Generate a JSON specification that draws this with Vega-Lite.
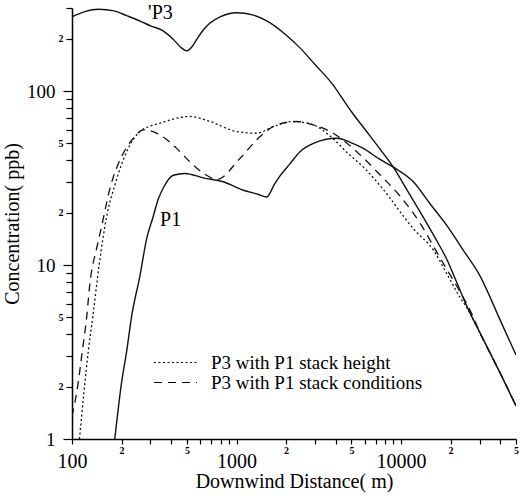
{
  "$schema": "https://vega.github.io/schema/vega-lite/v6.json",
  "width": 444,
  "height": 431,
  "autosize": {"type": "none"},
  "padding": {"left": 72, "top": 8, "right": 4, "bottom": 60},
  "background": "white",
  "config": {
    "view": {"stroke": null},
    "font": "Liberation Serif, Times New Roman, DejaVu Serif, serif",
    "text": {"font": "Liberation Serif, Times New Roman, DejaVu Serif, serif"}
  },
  "datasets": {
    "curves": [
      {"series": "P3", "x": 100, "y": 267}, {"series": "P3", "x": 120, "y": 286}, {"series": "P3", "x": 145, "y": 295},
      {"series": "P3", "x": 180, "y": 289}, {"series": "P3", "x": 215, "y": 271}, {"series": "P3", "x": 260, "y": 252},
      {"series": "P3", "x": 300, "y": 237}, {"series": "P3", "x": 360, "y": 221}, {"series": "P3", "x": 413, "y": 198},
      {"series": "P3", "x": 460, "y": 178}, {"series": "P3", "x": 498, "y": 170}, {"series": "P3", "x": 535, "y": 179},
      {"series": "P3", "x": 573, "y": 198}, {"series": "P3", "x": 630, "y": 225}, {"series": "P3", "x": 690, "y": 246},
      {"series": "P3", "x": 800, "y": 268}, {"series": "P3", "x": 1000, "y": 282}, {"series": "P3", "x": 1250, "y": 274},
      {"series": "P3", "x": 1527, "y": 253}, {"series": "P3", "x": 2000, "y": 210}, {"series": "P3", "x": 2431, "y": 177},
      {"series": "P3", "x": 3000, "y": 142}, {"series": "P3", "x": 3873, "y": 108}, {"series": "P3", "x": 4355, "y": 92},
      {"series": "P3", "x": 5000, "y": 76}, {"series": "P3", "x": 6180, "y": 58.5}, {"series": "P3", "x": 7500, "y": 46},
      {"series": "P3", "x": 8975, "y": 36.5}, {"series": "P3", "x": 11000, "y": 26.5}, {"series": "P3", "x": 13060, "y": 20.2},
      {"series": "P3", "x": 16000, "y": 14.5}, {"series": "P3", "x": 18970, "y": 10.8}, {"series": "P3", "x": 22000, "y": 7.8},
      {"series": "P3", "x": 25070, "y": 5.82}, {"series": "P3", "x": 30200, "y": 4.08}, {"series": "P3", "x": 40000, "y": 2.4},
      {"series": "P3", "x": 50000, "y": 1.55},

      {"series": "P1", "x": 182, "y": 1}, {"series": "P1", "x": 200, "y": 2.1}, {"series": "P1", "x": 215, "y": 3.2},
      {"series": "P1", "x": 230.6, "y": 5.1}, {"series": "P1", "x": 259, "y": 8.7}, {"series": "P1", "x": 284, "y": 14.1},
      {"series": "P1", "x": 310, "y": 18.7}, {"series": "P1", "x": 335, "y": 24}, {"series": "P1", "x": 360, "y": 27.9},
      {"series": "P1", "x": 413, "y": 32.8}, {"series": "P1", "x": 486, "y": 33.6}, {"series": "P1", "x": 628, "y": 31.7},
      {"series": "P1", "x": 832, "y": 30.1}, {"series": "P1", "x": 1100, "y": 26.9}, {"series": "P1", "x": 1350, "y": 25.5},
      {"series": "P1", "x": 1527, "y": 24.6}, {"series": "P1", "x": 1700, "y": 29.1}, {"series": "P1", "x": 1838, "y": 32.5},
      {"series": "P1", "x": 2100, "y": 37.9}, {"series": "P1", "x": 2431, "y": 44.8}, {"series": "P1", "x": 2931, "y": 50},
      {"series": "P1", "x": 4064, "y": 53.5}, {"series": "P1", "x": 5000, "y": 50.4}, {"series": "P1", "x": 5900, "y": 46.8},
      {"series": "P1", "x": 7400, "y": 40.6}, {"series": "P1", "x": 8975, "y": 36.5}, {"series": "P1", "x": 11880, "y": 30.1},
      {"series": "P1", "x": 15000, "y": 22.5}, {"series": "P1", "x": 18970, "y": 16.9}, {"series": "P1", "x": 24000, "y": 12.1},
      {"series": "P1", "x": 30200, "y": 8.67}, {"series": "P1", "x": 40000, "y": 4.84}, {"series": "P1", "x": 50000, "y": 3.04},

      {"series": "P3 with P1 stack height", "x": 111, "y": 1}, {"series": "P3 with P1 stack height", "x": 126, "y": 3.27},
      {"series": "P3 with P1 stack height", "x": 134, "y": 5.1}, {"series": "P3 with P1 stack height", "x": 146, "y": 9.9},
      {"series": "P3 with P1 stack height", "x": 163, "y": 19.3}, {"series": "P3 with P1 stack height", "x": 182, "y": 28.7},
      {"series": "P3 with P1 stack height", "x": 215, "y": 44.8}, {"series": "P3 with P1 stack height", "x": 259, "y": 58.5},
      {"series": "P3 with P1 stack height", "x": 343, "y": 65.3}, {"series": "P3 with P1 stack height", "x": 521, "y": 71.4},
      {"series": "P3 with P1 stack height", "x": 690, "y": 66.8}, {"series": "P3 with P1 stack height", "x": 1002, "y": 58.5},
      {"series": "P3 with P1 stack height", "x": 1328, "y": 57.2}, {"series": "P3 with P1 stack height", "x": 1675, "y": 62.5},
      {"series": "P3 with P1 stack height", "x": 2215, "y": 66.8}, {"series": "P3 with P1 stack height", "x": 2931, "y": 63.9},
      {"series": "P3 with P1 stack height", "x": 3800, "y": 54}, {"series": "P3 with P1 stack height", "x": 4800, "y": 43.5},
      {"series": "P3 with P1 stack height", "x": 6000, "y": 36}, {"series": "P3 with P1 stack height", "x": 7600, "y": 28},
      {"series": "P3 with P1 stack height", "x": 12000, "y": 16}, {"series": "P3 with P1 stack height", "x": 15700, "y": 12.2},
      {"series": "P3 with P1 stack height", "x": 19000, "y": 8.9}, {"series": "P3 with P1 stack height", "x": 22870, "y": 6.5},
      {"series": "P3 with P1 stack height", "x": 25070, "y": 5.7}, {"series": "P3 with P1 stack height", "x": 30200, "y": 4.05},
      {"series": "P3 with P1 stack height", "x": 40000, "y": 2.4}, {"series": "P3 with P1 stack height", "x": 50000, "y": 1.55},

      {"series": "P3 with P1 stack conditions", "x": 100, "y": 1.35}, {"series": "P3 with P1 stack conditions", "x": 109, "y": 2.1},
      {"series": "P3 with P1 stack conditions", "x": 114.5, "y": 3.0}, {"series": "P3 with P1 stack conditions", "x": 123, "y": 5.1},
      {"series": "P3 with P1 stack conditions", "x": 128.6, "y": 7.9}, {"series": "P3 with P1 stack conditions", "x": 141, "y": 12.4},
      {"series": "P3 with P1 stack conditions", "x": 151, "y": 16.5}, {"series": "P3 with P1 stack conditions", "x": 170, "y": 27.5},
      {"series": "P3 with P1 stack conditions", "x": 200, "y": 41.9}, {"series": "P3 with P1 stack conditions", "x": 236, "y": 53.5},
      {"series": "P3 with P1 stack conditions", "x": 271, "y": 59.8}, {"series": "P3 with P1 stack conditions", "x": 343, "y": 55.9},
      {"series": "P3 with P1 stack conditions", "x": 433, "y": 46.8}, {"series": "P3 with P1 stack conditions", "x": 546, "y": 37.5},
      {"series": "P3 with P1 stack conditions", "x": 650, "y": 33}, {"series": "P3 with P1 stack conditions", "x": 760, "y": 31},
      {"series": "P3 with P1 stack conditions", "x": 1050, "y": 41}, {"series": "P3 with P1 stack conditions", "x": 1390, "y": 54.7},
      {"series": "P3 with P1 stack conditions", "x": 1754, "y": 63.9}, {"series": "P3 with P1 stack conditions", "x": 2322, "y": 66.8},
      {"series": "P3 with P1 stack conditions", "x": 2931, "y": 63.9}, {"series": "P3 with P1 stack conditions", "x": 3873, "y": 57.2},
      {"series": "P3 with P1 stack conditions", "x": 5380, "y": 44.8}, {"series": "P3 with P1 stack conditions", "x": 7450, "y": 33},
      {"series": "P3 with P1 stack conditions", "x": 10000, "y": 24.5}, {"series": "P3 with P1 stack conditions", "x": 13000, "y": 17.5},
      {"series": "P3 with P1 stack conditions", "x": 17260, "y": 11}, {"series": "P3 with P1 stack conditions", "x": 22870, "y": 7},
      {"series": "P3 with P1 stack conditions", "x": 26300, "y": 5.5}, {"series": "P3 with P1 stack conditions", "x": 30200, "y": 4.08},
      {"series": "P3 with P1 stack conditions", "x": 40000, "y": 2.4}, {"series": "P3 with P1 stack conditions", "x": 50000, "y": 1.55}
    ],
    "labels": [
      {"x": 290, "y": 280, "label": "'P3"},
      {"x": 343, "y": 18.2, "label": "P1"}
    ]
  },
  "encoding": {
    "x": {
      "field": "x", "type": "quantitative",
      "scale": {"type": "log", "domain": [100, 50000], "nice": false},
      "axis": {
        "title": "Downwind Distance( m)",
        "values": [100, 200, 300, 400, 500, 600, 700, 800, 900, 1000, 2000, 3000, 4000, 5000, 6000, 7000, 8000, 9000, 10000, 20000, 30000, 40000, 50000],
        "labelExpr": "(datum.value==100||datum.value==1000||datum.value==10000) ? format(datum.value,'d') : ((datum.value==200||datum.value==2000||datum.value==20000) ? '2' : ((datum.value==500||datum.value==5000||datum.value==50000) ? '5' : ''))",
        "labelFontSize": {"condition": {"test": "datum.value==100||datum.value==1000||datum.value==10000", "value": 20}, "value": 10},
        "labelFontWeight": {"condition": {"test": "datum.value==100||datum.value==1000||datum.value==10000", "value": "normal"}, "value": "bold"},
        "labelPadding": {"condition": {"test": "datum.value==100||datum.value==1000||datum.value==10000", "value": 7}, "value": 1},
        "labelBaseline": "top",
        "labelOverlap": false,
        "labelFlush": false,
        "labelColor": "black",
        "labelFont": "Liberation Serif, Times New Roman, DejaVu Serif, serif",
        "grid": false,
        "domainColor": "black",
        "domainWidth": 1.5,
        "tickColor": "black",
        "tickWidth": 1.2,
        "tickSize": 5,
        "titleFont": "Liberation Serif, Times New Roman, DejaVu Serif, serif",
        "titleFontSize": 20,
        "titleFontWeight": "normal",
        "titleColor": "black",
        "titlePadding": 0
      }
    },
    "y": {
      "field": "y", "type": "quantitative",
      "scale": {"type": "log", "domain": [1, 300], "nice": false},
      "axis": {
        "title": "Concentration( ppb)",
        "values": [1, 2, 3, 4, 5, 6, 7, 8, 9, 10, 20, 30, 40, 50, 60, 70, 80, 90, 100, 200, 300],
        "labelExpr": "(datum.value==1||datum.value==10||datum.value==100) ? format(datum.value,'d') : ((datum.value==2||datum.value==20||datum.value==200) ? '2' : ((datum.value==5||datum.value==50) ? '5' : ''))",
        "labelFontSize": {"condition": {"test": "datum.value==1||datum.value==10||datum.value==100", "value": 19}, "value": 10},
        "labelFontWeight": {"condition": {"test": "datum.value==1||datum.value==10||datum.value==100", "value": "normal"}, "value": "bold"},
        "labelPadding": {"condition": {"test": "datum.value==1||datum.value==10||datum.value==100", "value": 8}, "value": 3},
        "tickSize": {"condition": {"test": "datum.value==1||datum.value==10||datum.value==100", "value": 9}, "value": 6},
        "labelBaseline": "middle",
        "labelOverlap": false,
        "labelFlush": false,
        "labelColor": "black",
        "labelFont": "Liberation Serif, Times New Roman, DejaVu Serif, serif",
        "grid": false,
        "domainColor": "black",
        "domainWidth": 1.5,
        "tickColor": "black",
        "tickWidth": 1.2,
        "titleFont": "Liberation Serif, Times New Roman, DejaVu Serif, serif",
        "titleFontSize": 20,
        "titleFontWeight": "normal",
        "titleColor": "black",
        "titlePadding": 4
      }
    }
  },
  "layer": [
    {
      "data": {"name": "curves"},
      "transform": [{"filter": "datum.series == 'P1' || datum.series == 'P3'"}],
      "mark": {"type": "line", "interpolate": "monotone", "clip": true, "color": "#111111", "strokeWidth": 1.4},
      "encoding": {"detail": {"field": "series", "type": "nominal"}}
    },
    {
      "data": {"name": "curves"},
      "transform": [{"filter": "datum.series != 'P1' && datum.series != 'P3'"}],
      "mark": {"type": "line", "interpolate": "monotone", "clip": true, "color": "#111111", "strokeWidth": 1.3},
      "encoding": {
        "strokeDash": {
          "field": "series", "type": "nominal",
          "scale": {"domain": ["P3 with P1 stack height", "P3 with P1 stack conditions"], "range": [[2, 2.5], [8, 6]]},
          "legend": {
            "title": null,
            "orient": "none",
            "legendX": 94,
            "legendY": 345,
            "symbolType": "M-3.07,0H3.07",
            "symbolSize": 196,
            "symbolStrokeWidth": 1.2,
            "symbolStrokeColor": "black",
            "labelFont": "Liberation Serif, Times New Roman, DejaVu Serif, serif",
            "labelFontSize": 19,
            "labelColor": "black",
            "labelOffset": 26,
            "labelLimit": 400,
            "rowPadding": -5,
            "padding": 0
          }
        }
      }
    },
    {
      "data": {"name": "labels"},
      "mark": {"type": "text", "align": "left", "baseline": "middle", "fontSize": 20, "font": "Liberation Serif, Times New Roman, DejaVu Serif, serif", "color": "black"},
      "encoding": {"text": {"field": "label", "type": "nominal"}}
    }
  ]
}
